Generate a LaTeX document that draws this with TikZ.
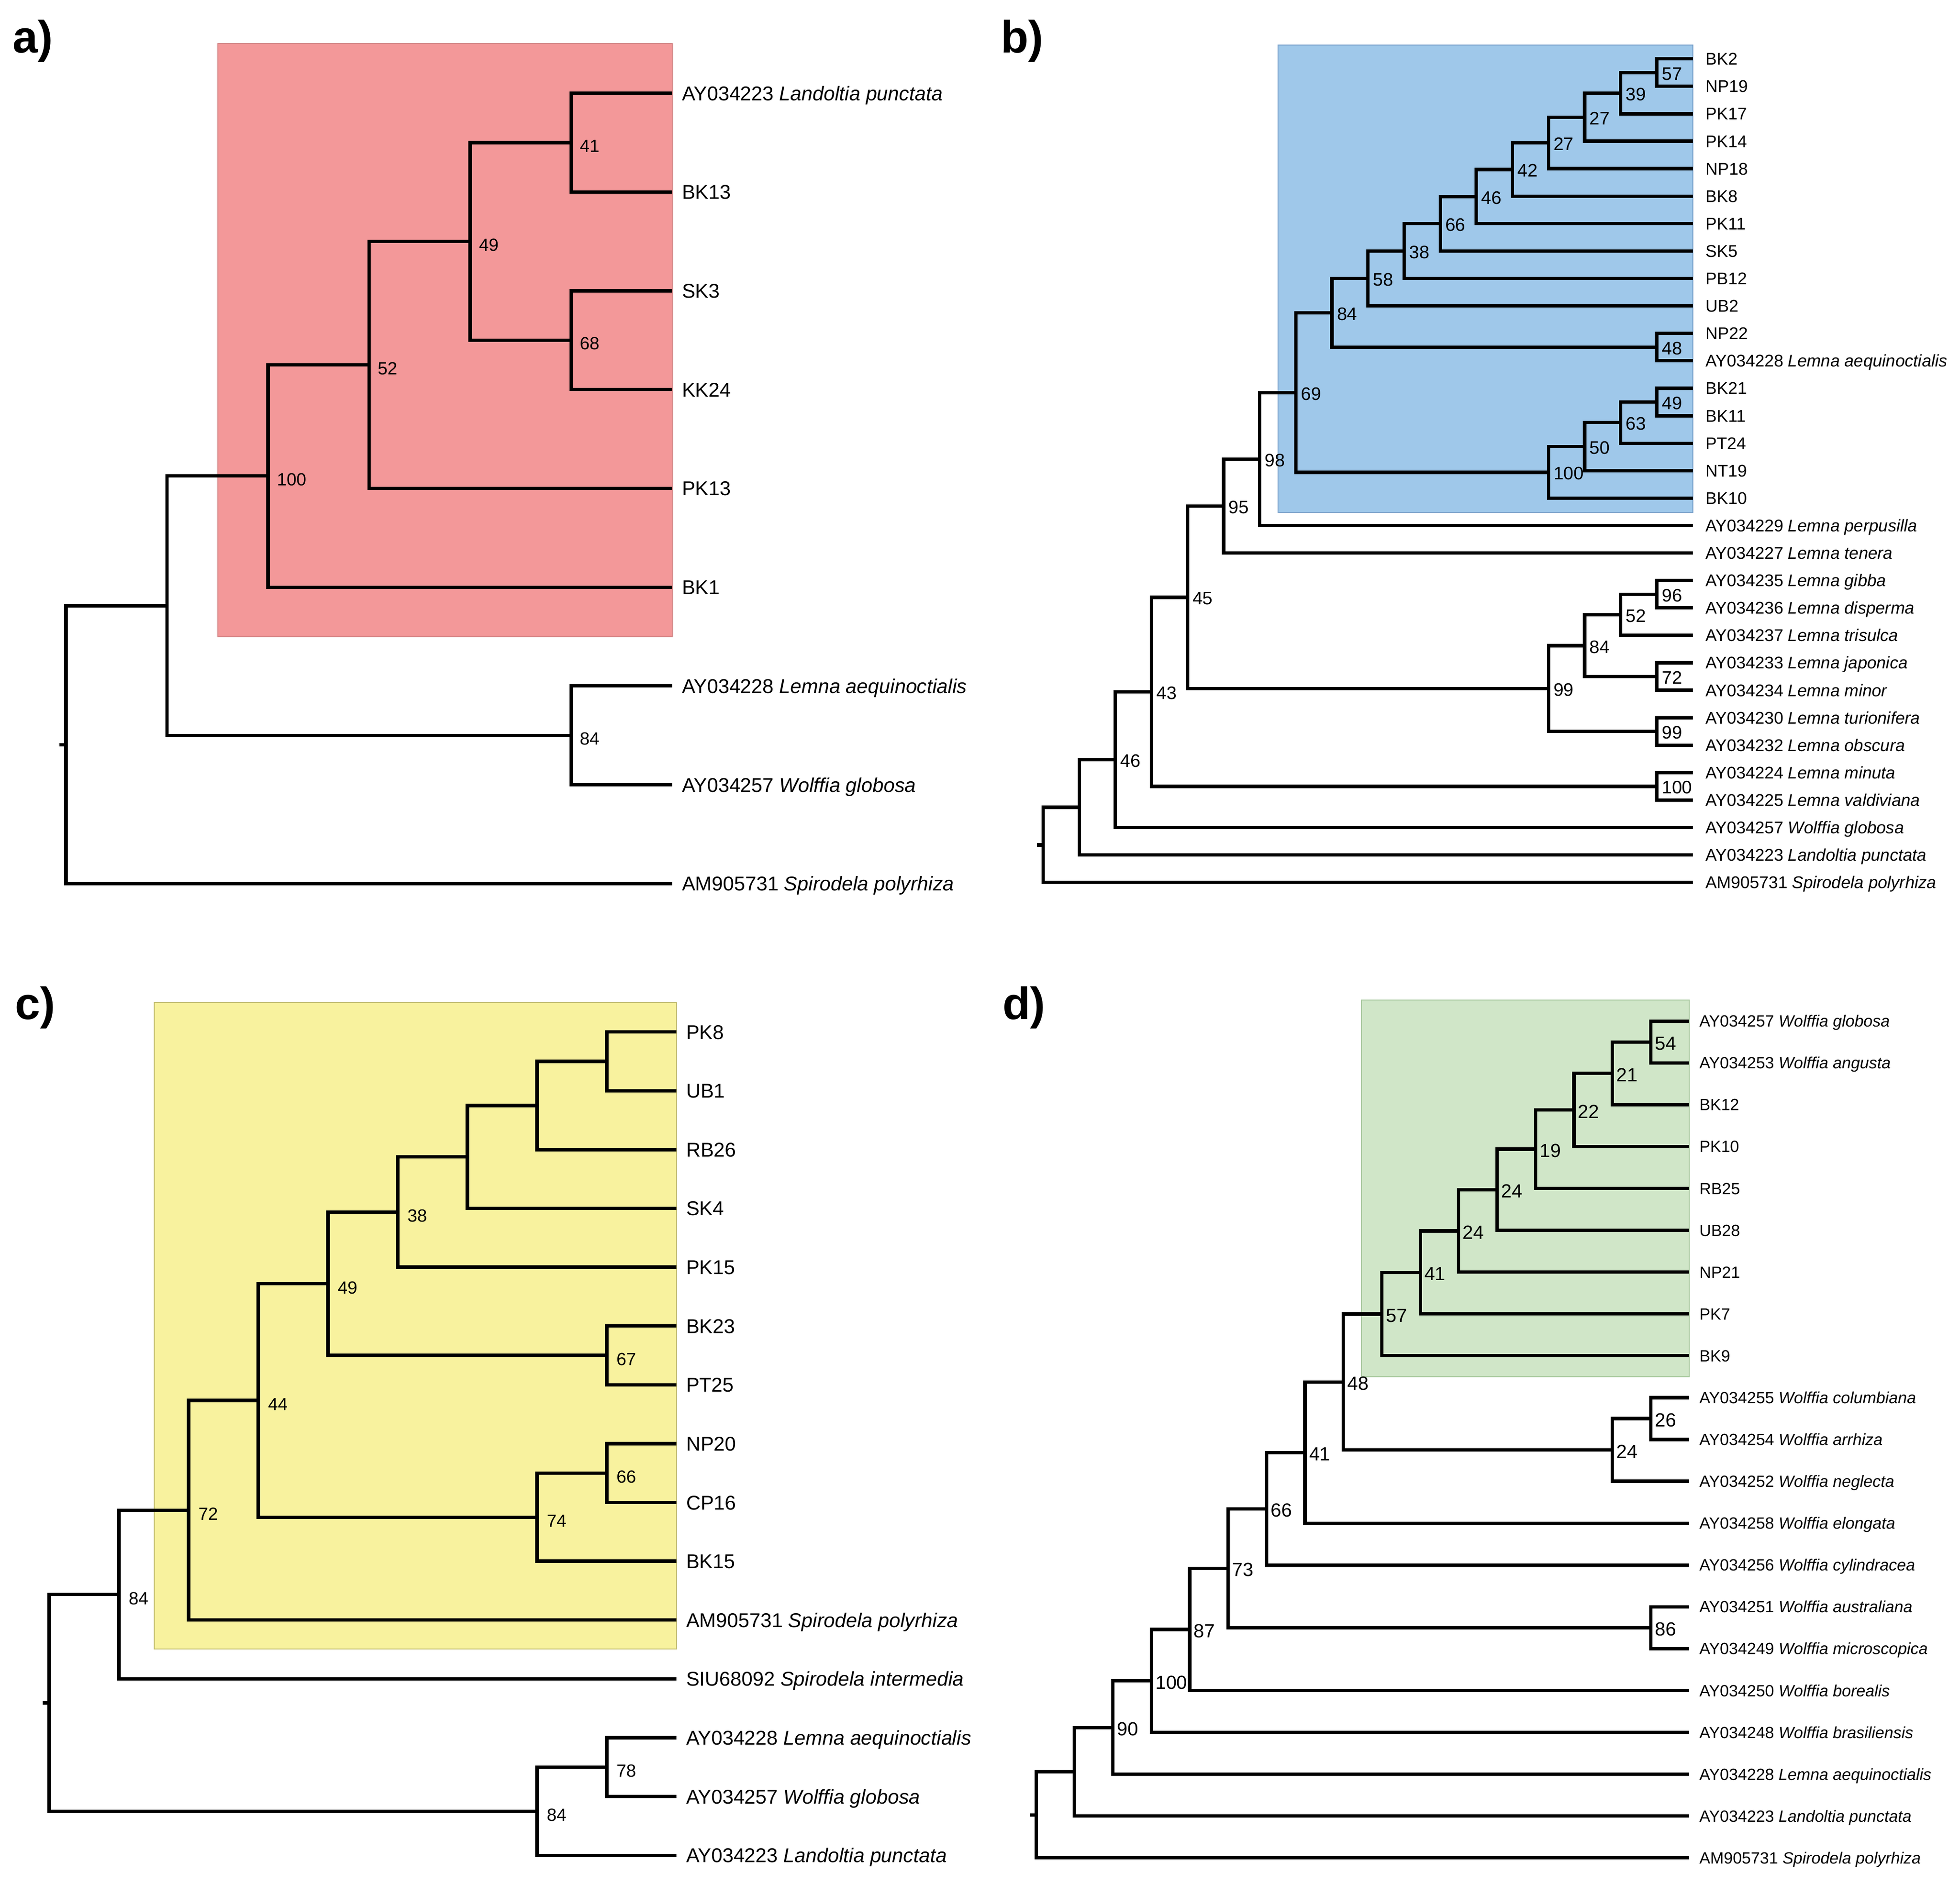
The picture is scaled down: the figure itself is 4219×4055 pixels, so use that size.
\documentclass[tikz,border=0pt]{standalone}
\usepackage{fontspec}
\setmainfont{Liberation Sans}
\usetikzlibrary{calc}
\definecolor{pinkF}{RGB}{243,152,153}
\definecolor{pinkD}{RGB}{205,120,120}
\definecolor{blueF}{RGB}{159,200,234}
\definecolor{blueD}{RGB}{118,158,200}
\definecolor{yelF}{RGB}{248,242,158}
\definecolor{yelD}{RGB}{195,190,115}
\definecolor{grnF}{RGB}{208,230,200}
\definecolor{grnD}{RGB}{165,198,155}
\begin{document}
\begin{tikzpicture}[x=0.2pt,y=-0.2pt,
  br/.style={line width=1.45pt,black},
  pl/.style={anchor=base west,inner sep=0pt,font=\fontsize{19.5}{21}\selectfont\bfseries},
  lfa/.style={anchor=base west,inner sep=0pt,xshift=4pt,yshift=-3.1pt,font=\fontsize{8.6}{10}\selectfont},
  bsa/.style={anchor=base west,inner sep=0pt,xshift=3.6pt,yshift=-4.1pt,font=\fontsize{7.6}{9}\selectfont},
  lfb/.style={anchor=base west,inner sep=0pt,xshift=5.2pt,yshift=-2.6pt,font=\fontsize{7.3}{9}\selectfont},
  bsb/.style={anchor=base west,inner sep=0pt,xshift=2pt,yshift=-3.2pt,font=\fontsize{7.8}{9}\selectfont},
  lfc/.style={anchor=base west,inner sep=0pt,xshift=4pt,yshift=-3.1pt,font=\fontsize{8.6}{10}\selectfont},
  bsc/.style={anchor=base west,inner sep=0pt,xshift=4pt,yshift=-4.3pt,font=\fontsize{7.6}{9}\selectfont},
  lfd/.style={anchor=base west,inner sep=0pt,xshift=4.2pt,yshift=-2.5pt,font=\fontsize{7}{8}\selectfont},
  bsd/.style={anchor=base west,inner sep=0pt,xshift=1.6pt,yshift=-3.5pt,font=\fontsize{8.2}{9}\selectfont}]
\useasboundingbox (0,0) rectangle (4219,4055);
\fill[white] (0,0) rectangle (4219,4055);

% panel labels
\node[pl] (labA) at (26,113) {a)};
\node[pl] (labB) at (2153,113) {b)};
\node[pl] (labC) at (31,2194) {c)};
\node[pl] (labD) at (2157,2194) {d)};

% highlight boxes
\filldraw[fill=pinkF,draw=pinkD,line width=0.4pt] (469,93.6) rectangle (1447,1371);
\filldraw[fill=blueF,draw=blueD,line width=0.4pt] (2751,97.3) rectangle (3644,1103);
\filldraw[fill=yelF,draw=yelD,line width=0.4pt] (332,2157.6) rectangle (1456,3550);
\filldraw[fill=grnF,draw=grnD,line width=0.4pt] (2931.2,2152.5) rectangle (3636,2964);

%================ panel a
\begin{scope}[yshift=-40.12pt,y=-42.54pt]
\foreach \i in {0,...,8} \coordinate (aL\i) at (1447,\i);
\coordinate (a41) at (1229.5,0.5);
\coordinate (a68) at (1229.5,2.5);
\coordinate (a49) at (1012,1.5);
\coordinate (a52) at (794.5,2.75);
\coordinate (a100) at (577,3.875);
\coordinate (a84) at (1229.5,6.5);
\coordinate (a5) at (359.5,5.1875);
\coordinate (aR) at (142,6.59375);
\coordinate (aS) at (128,6.59375);
\draw[br] (a41)|-(aL0) (a41)|-(aL1) (a68)|-(aL2) (a68)|-(aL3)
  (a49)|-(a41) (a49)|-(a68) (a52)|-(a49) (a52)|-(aL4)
  (a100)|-(a52) (a100)|-(aL5) (a84)|-(aL6) (a84)|-(aL7)
  (a5)|-(a100) (a5)|-(a84) (aR)|-(a5) (aR)|-(aL8) (aS)--(aR);
\node[lfa] (ta0) at (aL0) {AY034223 \textit{Landoltia punctata}};
\node[lfa] (ta1) at (aL1) {BK13};
\node[lfa] (ta2) at (aL2) {SK3};
\node[lfa] (ta3) at (aL3) {KK24};
\node[lfa] (ta4) at (aL4) {PK13};
\node[lfa] (ta5) at (aL5) {BK1};
\node[lfa] (ta6) at (aL6) {AY034228 \textit{Lemna aequinoctialis}};
\node[lfa] (ta7) at (aL7) {AY034257 \textit{Wolffia globosa}};
\node[lfa] (ta8) at (aL8) {AM905731 \textit{Spirodela polyrhiza}};
\node[bsa] (sa41) at (a41) {41};
\node[bsa] (sa68) at (a68) {68};
\node[bsa] (sa49) at (a49) {49};
\node[bsa] (sa52) at (a52) {52};
\node[bsa] (sa100) at (a100) {100};
\node[bsa] (sa84) at (a84) {84};
\end{scope}

%================ panel b
\begin{scope}[yshift=-25.34pt,y=-11.82pt]
\foreach \i in {0,...,30} \coordinate (bL\i) at (3644,\i);
\coordinate (b57) at (3566.3,0.5);
\coordinate (b39) at (3488.6,1.25);
\coordinate (b27u) at (3410.9,2.125);
\coordinate (b27l) at (3333.2,3.0625);
\coordinate (b42) at (3255.5,4.03125);
\coordinate (b46) at (3177.8,5.015625);
\coordinate (b66) at (3100.1,6.0078);
\coordinate (b38) at (3022.4,7.0039);
\coordinate (b58) at (2944.7,8.002);
\coordinate (b48) at (3566.3,10.5);
\coordinate (b84) at (2867,9.251);
\coordinate (b49) at (3566.3,12.5);
\coordinate (b63) at (3488.6,13.25);
\coordinate (b50) at (3410.9,14.125);
\coordinate (b100) at (3333.2,15.0625);
\coordinate (b69) at (2789.3,12.1565);
\coordinate (b98) at (2711.6,14.578);
\coordinate (b95) at (2633.9,16.289);
\coordinate (b96) at (3566.3,19.5);
\coordinate (b52) at (3488.6,20.25);
\coordinate (b72) at (3566.3,22.5);
\coordinate (b84b) at (3410.9,21.375);
\coordinate (b99b) at (3566.3,24.5);
\coordinate (b99) at (3333.2,22.9375);
\coordinate (b45) at (2556.2,19.613);
\coordinate (b100b) at (3566.3,26.5);
\coordinate (b43) at (2478.5,23.057);
\coordinate (b46b) at (2400.8,25.528);
\coordinate (b17) at (2323.1,27.264);
\coordinate (bR) at (2245.4,28.632);
\coordinate (bS) at (2232,28.632);
\draw[br] (b57)|-(bL0) (b57)|-(bL1) (b39)|-(b57) (b39)|-(bL2)
  (b27u)|-(b39) (b27u)|-(bL3) (b27l)|-(b27u) (b27l)|-(bL4)
  (b42)|-(b27l) (b42)|-(bL5) (b46)|-(b42) (b46)|-(bL6)
  (b66)|-(b46) (b66)|-(bL7) (b38)|-(b66) (b38)|-(bL8)
  (b58)|-(b38) (b58)|-(bL9) (b48)|-(bL10) (b48)|-(bL11)
  (b84)|-(b58) (b84)|-(b48)
  (b49)|-(bL12) (b49)|-(bL13) (b63)|-(b49) (b63)|-(bL14)
  (b50)|-(b63) (b50)|-(bL15) (b100)|-(b50) (b100)|-(bL16)
  (b69)|-(b84) (b69)|-(b100) (b98)|-(b69) (b98)|-(bL17)
  (b95)|-(b98) (b95)|-(bL18)
  (b96)|-(bL19) (b96)|-(bL20) (b52)|-(b96) (b52)|-(bL21)
  (b72)|-(bL22) (b72)|-(bL23) (b84b)|-(b52) (b84b)|-(b72)
  (b99b)|-(bL24) (b99b)|-(bL25) (b99)|-(b84b) (b99)|-(b99b)
  (b45)|-(b95) (b45)|-(b99) (b100b)|-(bL26) (b100b)|-(bL27)
  (b43)|-(b45) (b43)|-(b100b) (b46b)|-(b43) (b46b)|-(bL28)
  (b17)|-(b46b) (b17)|-(bL29) (bR)|-(b17) (bR)|-(bL30) (bS)--(bR);
\node[lfb] (tb0) at (bL0) {BK2};
\node[lfb] (tb1) at (bL1) {NP19};
\node[lfb] (tb2) at (bL2) {PK17};
\node[lfb] (tb3) at (bL3) {PK14};
\node[lfb] (tb4) at (bL4) {NP18};
\node[lfb] (tb5) at (bL5) {BK8};
\node[lfb] (tb6) at (bL6) {PK11};
\node[lfb] (tb7) at (bL7) {SK5};
\node[lfb] (tb8) at (bL8) {PB12};
\node[lfb] (tb9) at (bL9) {UB2};
\node[lfb] (tb10) at (bL10) {NP22};
\node[lfb] (tb11) at (bL11) {AY034228 \textit{Lemna aequinoctialis}};
\node[lfb] (tb12) at (bL12) {BK21};
\node[lfb] (tb13) at (bL13) {BK11};
\node[lfb] (tb14) at (bL14) {PT24};
\node[lfb] (tb15) at (bL15) {NT19};
\node[lfb] (tb16) at (bL16) {BK10};
\node[lfb] (tb17) at (bL17) {AY034229 \textit{Lemna perpusilla}};
\node[lfb] (tb18) at (bL18) {AY034227 \textit{Lemna tenera}};
\node[lfb] (tb19) at (bL19) {AY034235 \textit{Lemna gibba}};
\node[lfb] (tb20) at (bL20) {AY034236 \textit{Lemna disperma}};
\node[lfb] (tb21) at (bL21) {AY034237 \textit{Lemna trisulca}};
\node[lfb] (tb22) at (bL22) {AY034233 \textit{Lemna japonica}};
\node[lfb] (tb23) at (bL23) {AY034234 \textit{Lemna minor}};
\node[lfb] (tb24) at (bL24) {AY034230 \textit{Lemna turionifera}};
\node[lfb] (tb25) at (bL25) {AY034232 \textit{Lemna obscura}};
\node[lfb] (tb26) at (bL26) {AY034224 \textit{Lemna minuta}};
\node[lfb] (tb27) at (bL27) {AY034225 \textit{Lemna valdiviana}};
\node[lfb] (tb28) at (bL28) {AY034257 \textit{Wolffia globosa}};
\node[lfb] (tb29) at (bL29) {AY034223 \textit{Landoltia punctata}};
\node[lfb] (tb30) at (bL30) {AM905731 \textit{Spirodela polyrhiza}};
\node[bsb] (sb57) at (b57) {57};
\node[bsb] (sb39) at (b39) {39};
\node[bsb] (sb27u) at (b27u) {27};
\node[bsb] (sb27l) at (b27l) {27};
\node[bsb] (sb42) at (b42) {42};
\node[bsb] (sb46) at (b46) {46};
\node[bsb] (sb66) at (b66) {66};
\node[bsb] (sb38) at (b38) {38};
\node[bsb] (sb58) at (b58) {58};
\node[bsb] (sb84) at (b84) {84};
\node[bsb] (sb48) at (b48) {48};
\node[bsb] (sb69) at (b69) {69};
\node[bsb] (sb49) at (b49) {49};
\node[bsb] (sb63) at (b63) {63};
\node[bsb] (sb50) at (b50) {50};
\node[bsb] (sb100) at (b100) {100};
\node[bsb] (sb98) at (b98) {98};
\node[bsb] (sb95) at (b95) {95};
\node[bsb] (sb96) at (b96) {96};
\node[bsb] (sb52) at (b52) {52};
\node[bsb] (sb72) at (b72) {72};
\node[bsb] (sb84b) at (b84b) {84};
\node[bsb] (sb99b) at (b99b) {99};
\node[bsb] (sb99) at (b99) {99};
\node[bsb] (sb45) at (b45) {45};
\node[bsb] (sb100b) at (b100b) {100};
\node[bsb] (sb43) at (b43) {43};
\node[bsb] (sb46b) at (b46b) {46};
\end{scope}

%================ panel c
\begin{scope}[yshift=-444.32pt,y=-25.32pt]
\foreach \i in {0,...,14} \coordinate (cL\i) at (1456,\i);
\coordinate (cn1) at (1306,0.5);
\coordinate (cn2) at (1156,1.25);
\coordinate (cn3) at (1006,2.125);
\coordinate (c38) at (856,3.0625);
\coordinate (c67) at (1306,5.5);
\coordinate (c49) at (706,4.28125);
\coordinate (c66) at (1306,7.5);
\coordinate (c74) at (1156,8.25);
\coordinate (c44) at (556,6.265625);
\coordinate (c72) at (406,8.1328);
\coordinate (c84) at (256,9.5664);
\coordinate (c78) at (1306,12.5);
\coordinate (c84b) at (1156,13.25);
\coordinate (cR) at (106,11.4082);
\coordinate (cS) at (92,11.4082);
\draw[br] (cn1)|-(cL0) (cn1)|-(cL1) (cn2)|-(cn1) (cn2)|-(cL2)
  (cn3)|-(cn2) (cn3)|-(cL3) (c38)|-(cn3) (c38)|-(cL4)
  (c67)|-(cL5) (c67)|-(cL6) (c49)|-(c38) (c49)|-(c67)
  (c66)|-(cL7) (c66)|-(cL8) (c74)|-(c66) (c74)|-(cL9)
  (c44)|-(c49) (c44)|-(c74) (c72)|-(c44) (c72)|-(cL10)
  (c84)|-(c72) (c84)|-(cL11) (c78)|-(cL12) (c78)|-(cL13)
  (c84b)|-(c78) (c84b)|-(cL14) (cR)|-(c84) (cR)|-(c84b) (cS)--(cR);
\node[lfc] (tc0) at (cL0) {PK8};
\node[lfc] (tc1) at (cL1) {UB1};
\node[lfc] (tc2) at (cL2) {RB26};
\node[lfc] (tc3) at (cL3) {SK4};
\node[lfc] (tc4) at (cL4) {PK15};
\node[lfc] (tc5) at (cL5) {BK23};
\node[lfc] (tc6) at (cL6) {PT25};
\node[lfc] (tc7) at (cL7) {NP20};
\node[lfc] (tc8) at (cL8) {CP16};
\node[lfc] (tc9) at (cL9) {BK15};
\node[lfc] (tc10) at (cL10) {AM905731 \textit{Spirodela polyrhiza}};
\node[lfc] (tc11) at (cL11) {SIU68092 \textit{Spirodela intermedia}};
\node[lfc] (tc12) at (cL12) {AY034228 \textit{Lemna aequinoctialis}};
\node[lfc] (tc13) at (cL13) {AY034257 \textit{Wolffia globosa}};
\node[lfc] (tc14) at (cL14) {AY034223 \textit{Landoltia punctata}};
\node[bsc] (sc38) at (c38) {38};
\node[bsc] (sc49) at (c49) {49};
\node[bsc] (sc67) at (c67) {67};
\node[bsc] (sc44) at (c44) {44};
\node[bsc] (sc66) at (c66) {66};
\node[bsc] (sc74) at (c74) {74};
\node[bsc] (sc72) at (c72) {72};
\node[bsc] (sc84) at (c84) {84};
\node[bsc] (sc78) at (c78) {78};
\node[bsc] (sc84b) at (c84b) {84};
\end{scope}

%================ panel d
\begin{scope}[yshift=-439.62pt,y=-18.016pt]
\foreach \i in {0,...,20} \coordinate (dL\i) at (3636,\i);
\coordinate (d54) at (3553.3,0.5);
\coordinate (d21) at (3470.6,1.25);
\coordinate (d22) at (3387.9,2.125);
\coordinate (d19) at (3305.2,3.0625);
\coordinate (d24u) at (3222.5,4.03125);
\coordinate (d24l) at (3139.8,5.015625);
\coordinate (d41u) at (3057.1,6.0078);
\coordinate (d57) at (2974.4,7.0039);
\coordinate (d26) at (3553.3,9.5);
\coordinate (d24c) at (3470.6,10.25);
\coordinate (d48) at (2891.7,8.627);
\coordinate (d41) at (2809,10.3135);
\coordinate (d66) at (2726.3,11.6568);
\coordinate (d86) at (3553.3,14.5);
\coordinate (d73) at (2643.6,13.0784);
\coordinate (d87) at (2560.9,14.5392);
\coordinate (d100) at (2478.2,15.7696);
\coordinate (d90) at (2395.5,16.8848);
\coordinate (dn) at (2312.8,17.9424);
\coordinate (dR) at (2230.1,18.9712);
\coordinate (dS) at (2217,18.9712);
\draw[br] (d54)|-(dL0) (d54)|-(dL1) (d21)|-(d54) (d21)|-(dL2)
  (d22)|-(d21) (d22)|-(dL3) (d19)|-(d22) (d19)|-(dL4)
  (d24u)|-(d19) (d24u)|-(dL5) (d24l)|-(d24u) (d24l)|-(dL6)
  (d41u)|-(d24l) (d41u)|-(dL7) (d57)|-(d41u) (d57)|-(dL8)
  (d26)|-(dL9) (d26)|-(dL10) (d24c)|-(d26) (d24c)|-(dL11)
  (d48)|-(d57) (d48)|-(d24c) (d41)|-(d48) (d41)|-(dL12)
  (d66)|-(d41) (d66)|-(dL13) (d86)|-(dL14) (d86)|-(dL15)
  (d73)|-(d66) (d73)|-(d86) (d87)|-(d73) (d87)|-(dL16)
  (d100)|-(d87) (d100)|-(dL17) (d90)|-(d100) (d90)|-(dL18)
  (dn)|-(d90) (dn)|-(dL19) (dR)|-(dn) (dR)|-(dL20) (dS)--(dR);
\node[lfd] (td0) at (dL0) {AY034257 \textit{Wolffia globosa}};
\node[lfd] (td1) at (dL1) {AY034253 \textit{Wolffia angusta}};
\node[lfd] (td2) at (dL2) {BK12};
\node[lfd] (td3) at (dL3) {PK10};
\node[lfd] (td4) at (dL4) {RB25};
\node[lfd] (td5) at (dL5) {UB28};
\node[lfd] (td6) at (dL6) {NP21};
\node[lfd] (td7) at (dL7) {PK7};
\node[lfd] (td8) at (dL8) {BK9};
\node[lfd] (td9) at (dL9) {AY034255 \textit{Wolffia columbiana}};
\node[lfd] (td10) at (dL10) {AY034254 \textit{Wolffia arrhiza}};
\node[lfd] (td11) at (dL11) {AY034252 \textit{Wolffia neglecta}};
\node[lfd] (td12) at (dL12) {AY034258 \textit{Wolffia elongata}};
\node[lfd] (td13) at (dL13) {AY034256 \textit{Wolffia cylindracea}};
\node[lfd] (td14) at (dL14) {AY034251 \textit{Wolffia australiana}};
\node[lfd] (td15) at (dL15) {AY034249 \textit{Wolffia microscopica}};
\node[lfd] (td16) at (dL16) {AY034250 \textit{Wolffia borealis}};
\node[lfd] (td17) at (dL17) {AY034248 \textit{Wolffia brasiliensis}};
\node[lfd] (td18) at (dL18) {AY034228 \textit{Lemna aequinoctialis}};
\node[lfd] (td19) at (dL19) {AY034223 \textit{Landoltia punctata}};
\node[lfd] (td20) at (dL20) {AM905731 \textit{Spirodela polyrhiza}};
\node[bsd] (sd54) at (d54) {54};
\node[bsd] (sd21) at (d21) {21};
\node[bsd] (sd22) at (d22) {22};
\node[bsd] (sd19) at (d19) {19};
\node[bsd] (sd24u) at (d24u) {24};
\node[bsd] (sd24l) at (d24l) {24};
\node[bsd] (sd41u) at (d41u) {41};
\node[bsd] (sd57) at (d57) {57};
\node[bsd] (sd26) at (d26) {26};
\node[bsd] (sd24c) at (d24c) {24};
\node[bsd] (sd48) at (d48) {48};
\node[bsd] (sd41) at (d41) {41};
\node[bsd] (sd66) at (d66) {66};
\node[bsd] (sd86) at (d86) {86};
\node[bsd] (sd73) at (d73) {73};
\node[bsd] (sd87) at (d87) {87};
\node[bsd] (sd100) at (d100) {100};
\node[bsd] (sd90) at (d90) {90};
\end{scope}
\end{tikzpicture}
\end{document}
